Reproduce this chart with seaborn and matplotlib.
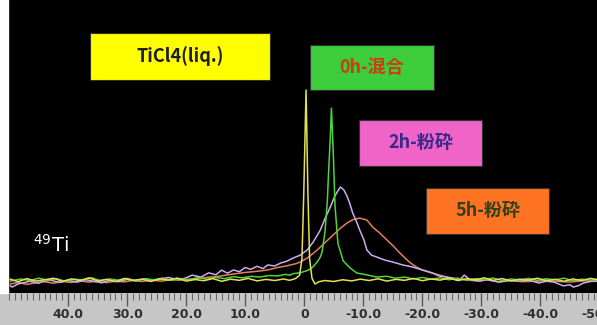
import pandas as pd
import numpy as np
import matplotlib.pyplot as plt
import seaborn as sns
from matplotlib.patches import Rectangle
from matplotlib.ticker import FixedLocator, FixedFormatter, MultipleLocator

# ----------------------------
# 1. DATA (chemical shift in ppm)
# ----------------------------
ticl4_ppm = [49.8, 48.5, 47, 45.5, 44, 42.5, 41, 39.5, 38, 36.5, 35, 33.5, 32, 30.5, 29, 27.5,
             26, 24.5, 23, 21.5, 20, 18.5, 17, 15.5, 14, 12.5, 11, 9.5, 8, 6.5, 5, 3.5, 2.5,
             1.5, 0.8, 0.4, 0.1, -0.3, -0.6, -0.9, -1.3, -1.8, -2.5, -3.5, -5, -6.5, -8, -9.5,
             -11, -12.5, -14, -15.5, -17, -18.5, -20, -21.5, -23, -24.5, -26, -27.5, -29, -30.5,
             -32, -33.5, -35, -36.5, -38, -39.5, -41, -42.5, -44, -45.5, -47, -48.5, -50]
ticl4_int = [1.5, 0.2, 1.8, 0.5, 1.2, 2.0, 0.4, 1.6, 0.8, 2.2, 0.6, 1.4, 0.2, 1.9, 0.9, 1.5,
             0.3, 1.7, 1.0, 2.1, 0.5, 1.3, 0.7, 1.8, 0.4, 1.5, 0.9, 1.9, 0.6, 1.4, 0.8, 1.6, 0.9,
             1.8, 3.5, 12, 45, 100, 48, 12, 2, -1.0, 0.2, 0.8, 0.3, 1.2, 0.6, 1.5,
             0.8, 1.7, 0.5, 1.4, 0.9, 1.9, 0.7, 1.6, 1.0, 2.0, 0.8, 1.7, 1.1, 2.2,
             0.9, 1.8, 0.6, 1.5, 1.0, 2.0, 0.7, 1.4, 0.4, 1.6, 0.8, 1.9, 1.0]

mix0h_ppm = [49.8, 48, 46.5, 45, 43.5, 42, 40.5, 39, 37.5, 36, 34.5, 33, 31.5, 30, 28.5, 27,
             25.5, 24, 22.5, 21, 19.5, 18, 16.5, 15, 13.5, 12, 10.5, 9, 7.5, 6, 4.5, 3.2, 2.4,
             1.9, 0.7, -0.5, -1.0, -1.5, -2.2, -2.7, -3.0, -3.5, -3.9, -4.1, -4.4, -4.6, -4.9,
             -5.2, -5.7, -6.6, -7.7, -8.9, -10.5, -12.3, -14, -15.5, -17, -18.5, -20, -21.5,
             -23, -24.5, -26, -27.5, -29, -30.5, -32, -33.5, -35, -36.5, -38, -39.5, -41,
             -42.5, -44, -45.5, -47, -48.5, -50]
mix0h_int = [0.5, 1.6, 0.8, 2.0, 1.0, 1.8, 0.4, 1.5, 1.1, 2.2, 0.7, 1.6, 1.0, 1.9, 0.6, 1.7,
             1.2, 2.1, 0.9, 1.8, 1.3, 2.3, 1.5, 2.4, 1.8, 2.8, 2.2, 3.0, 2.6, 3.4, 3.2, 4.0, 3.6,
             4.4, 4.8, 6.0, 6.8, 8.0, 10.5, 13.0, 15.5, 26, 42, 56, 75, 90.6, 68,
             40, 20, 11, 7.5, 4.7, 3.8, 2.6, 3.0, 2.0, 2.6, 1.6, 2.4, 1.5,
             2.2, 1.2, 2.0, 1.0, 1.8, 1.3, 2.1, 0.8, 1.6, 1.1, 1.9, 0.9, 1.7,
             1.2, 2.0, 0.7, 1.5, 1.0, 1.6]

mill2h_ppm = [49.8, 49.5, 48.5, 47.8, 46.5, 45, 44.4, 43, 41.5, 40, 38.5, 37, 35.5, 34.3, 33,
              31.5, 30, 28.5, 27, 25.5, 24.2, 23, 21.5, 20.2, 19, 17.5, 16.2, 15, 14, 13, 12,
              11, 10, 9.1, 8, 7, 6.2, 5, 4.0, 3.0, 1.9, 0.7, -0.5, -1.5, -2.7, -3.5, -4.4,
              -5.2, -6.1, -6.7, -7.2, -7.7, -8.2, -8.9, -9.4, -10.1, -10.6, -11.4, -12.3,
              -13.6, -15.0, -16.7, -18.4, -20.0, -21.7, -22.9, -24.1, -25.5, -26.3, -27.1,
              -27.9, -29.6, -31, -33, -34.5, -36.4, -38, -39.7, -41, -42.3, -43.9, -45,
              -45.6, -46.5, -47.3, -48.5, -50]
mill2h_int = [-2.0, -2.6, -1.0, -0.5, 0.4, -0.6, 0.2, 1.0, -0.2, 0.8, 0.0, 1.2, 0.3, -0.4, 0.9,
              0.2, 1.4, 0.6, 1.8, 0.8, 1.6, 2.4, 1.2, 2.0, 3.6, 2.6, 4.8, 3.8, 6.2, 4.6, 6.3,
              5.4, 7.6, 6.6, 8.2, 7.0, 8.9, 8.4, 9.9, 10.8, 12.5, 14.0, 16.7, 20.8, 27, 33, 39,
              45, 49.5, 48, 45, 41, 36, 31, 27, 22, 16.7, 14.0, 13.0,
              11.5, 10.4, 8.9, 7.8, 6.3, 4.7, 3.1, 2.6, 1.6, 1.0, 3.6,
              1.6, 0.5, 1.2, 0.0, 0.9, 0.5, 1.1, -0.5, 0.4, 0.0, -2.0, -1.4,
              -2.6, -1.8, -0.5, 0.3, 0.5]

mill5h_ppm = [49.8, 48.5, 47, 45.5, 44, 42.5, 41, 39.5, 38, 36.5, 35, 33.5, 32, 30.5, 29, 27.5,
              26, 24.2, 22.5, 21, 19, 17.5, 16, 14.5, 12, 10, 8, 6.2, 4.5, 3.2, 1.5, 0.7,
              -0.5, -2.2, -3.5, -4.9, -6.1, -7.2, -8.3, -9.4, -10.6, -11.6, -12.8, -14.0,
              -15.0, -16.2, -17.8, -19.0, -20.0, -21.7, -24.1, -26.3, -28, -29.6, -31, -33,
              -35, -37, -39.7, -41, -43, -45, -47, -50]
mill5h_int = [-1.0, -0.2, -1.2, -0.4, 0.2, -0.6, 0.3, -0.2, 0.6, 0.0, 0.4, -0.3, 0.5, 0.1, 0.8, 0.3,
              1.0, 0.5, 1.3, 1.0, 1.6, 2.0, 2.6, 3.0, 4.2, 5.0, 5.6, 6.3, 7.6, 8.3, 9.5, 10.4,
              12.5, 16.7, 20.5, 24.5, 28, 30.7, 32.6, 33.3, 32.3, 28.6, 25.5, 21.9,
              19, 15.1, 10.4, 7.8, 6.3, 4.7, 2.6, 1.6, 0.9, 0.5, 1.2, 0.0,
              0.8, 0.2, 0.5, 1.0, 0.3, 0.0, 0.6, 0.5]

samples = ["5h-粉砕", "2h-粉砕", "0h-混合", "TiCl4(liq.)"]
line_colors = ["#e58058", "#cfaaf0", "#4cd63a", "#e2e058"]

tick_values = [40, 30, 20, 10, 0, -10, -20, -30, -40, -50]
tick_labels = ["40.0", "30.0", "20.0", "10.0", "0", "-10.0", "-20.0", "-30.0", "-40.0", "-50.0"]

# ----------------------------
# 2. LONG TABLE FOR SEABORN
# ----------------------------
df = pd.concat([
    pd.DataFrame({"ppm": mill5h_ppm, "intensity": mill5h_int, "sample": samples[0]}),
    pd.DataFrame({"ppm": mill2h_ppm, "intensity": mill2h_int, "sample": samples[1]}),
    pd.DataFrame({"ppm": mix0h_ppm, "intensity": mix0h_int, "sample": samples[2]}),
    pd.DataFrame({"ppm": ticl4_ppm, "intensity": ticl4_int, "sample": samples[3]}),
], ignore_index=True)

# ----------------------------
# 3. VISUALIZATION
# ----------------------------
W, H = 597, 325
fig = plt.figure(figsize=(W / 100, H / 100), dpi=100, facecolor="#c6c6c6")

# white strip at the far left of the scan
fig.patches.append(Rectangle((0, 32 / H), 8 / W, 293 / H, transform=fig.transFigure,
                             color="white", zorder=0))

ax = fig.add_axes([8 / W, 32 / H, 592 / W, 293 / H])
ax.set_facecolor("black")

sns.lineplot(data=df, x="ppm", y="intensity", hue="sample", hue_order=samples,
             palette=line_colors, estimator=None, sort=False, lw=1.1, legend=False, ax=ax)

ax.set_xlim(50.2, -50.1)
ax.set_ylim(-5.7, 146.9)
ax.set_xlabel("")
ax.set_ylabel("")
ax.set_yticks([])
for s in ax.spines.values():
    s.set_visible(False)

ax.xaxis.set_major_locator(FixedLocator(tick_values))
ax.xaxis.set_major_formatter(FixedFormatter(tick_labels))
ax.xaxis.set_minor_locator(MultipleLocator(1))
ax.tick_params(axis="x", which="major", direction="out", length=9, width=1.0,
               color="#5a5a5a", pad=2, labelsize=9, labelcolor="#2e2e2e")
ax.tick_params(axis="x", which="minor", direction="out", length=5, width=0.8, color="#6a6a6a")
for t in ax.get_xticklabels():
    t.set_fontweight("bold")
    t.set_fontfamily(["Liberation Sans Narrow", "DejaVu Sans"])


def label_box(x0, y0, x1, y1, face, text, tcolor, size=13):
    fig.patches.append(Rectangle((x0 / W, 1 - y1 / H), (x1 - x0) / W, (y1 - y0) / H,
                                 transform=fig.transFigure, facecolor=face,
                                 edgecolor="#303030", lw=0.8, zorder=3))
    fig.text((x0 + x1) / 2 / W, 1 - (y0 + y1) / 2 / H, text, color=tcolor, fontsize=size,
             fontweight="bold", ha="center", va="center", zorder=4,
             family=["Noto Sans CJK JP", "DejaVu Sans"])


label_box(90, 33, 270, 80, "#ffff00", "TiCl4(liq.)", "#1e1e1e")
label_box(310, 45, 434, 90, "#3ccc3c", "0h-混合", "#d23a10")
label_box(359, 120, 482, 166, "#f064c8", "2h-粉砕", "#3a2a8a")
label_box(426, 188, 549, 234, "#ff7422", "5h-粉砕", "#34401a")

fig.text(33 / W, 1 - 252 / H, "$^{49}$Ti", color="white", fontsize=14, ha="left", va="baseline")

plt.savefig("out.png", dpi=100, facecolor=fig.get_facecolor())
